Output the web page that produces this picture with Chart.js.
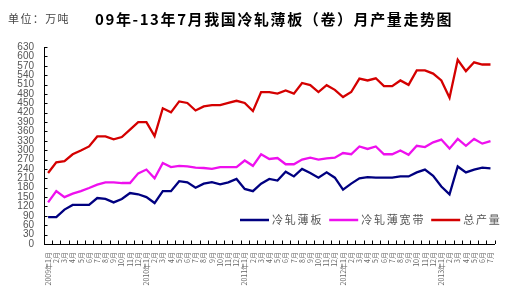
<!DOCTYPE html>
<html>
<head>
<meta charset="utf-8">
<script src="https://cdn.jsdelivr.net/npm/chart.js@4"></script>
<style>
  html,body{margin:0;padding:0;background:#fff;}
  #wrap{position:relative;width:507px;height:297px;overflow:hidden;}
  #unit{position:absolute;left:8px;top:12px;font:11px "Noto Sans CJK SC",sans-serif;letter-spacing:1.4px;color:#444;line-height:13px;white-space:nowrap;}
  #title{position:absolute;left:95px;top:11px;font:bold 15px "Noto Sans CJK SC",sans-serif;letter-spacing:1.6px;color:#000;line-height:16px;white-space:nowrap;}
  canvas{position:absolute;left:0;top:0;}
</style>
</head>
<body>
<div id="wrap">
  <canvas id="c" width="507" height="297"></canvas>
  <div id="unit">单位：万吨</div>
  <div id="title">09年-13年7月我国冷轧薄板（卷）月产量走势图</div>
</div>
<script>
// ---- data (万吨), 2009-01 .. 2013-07 ----
const years = [2009, 2010, 2011, 2012, 2013];
const lastMonth = 7;
const seriesNames = ['冷轧薄板', '冷轧薄宽带', '总产量'];
const coldSheet = [86,86,110,125,125,125,147,144,133,144,163,159,150,131,169,169,201,197,180,193,198,191,197,208,176,169,193,208,203,231,216,240,227,212,229,212,174,193,210,214,212,212,212,216,216,229,238,218,184,159,248,229,238,244,242];
const coldWide = [133,169,150,161,169,179,190,197,197,195,195,226,238,210,259,246,250,248,244,243,240,246,246,246,267,250,287,272,275,255,255,270,276,270,274,276,291,287,312,304,312,287,287,299,285,314,310,325,334,305,336,314,336,321,329];
const total = [227,261,265,287,299,312,344,344,335,342,366,390,390,345,434,421,456,451,427,440,444,444,451,458,451,425,486,486,481,491,481,515,508,486,508,493,470,486,529,523,530,505,505,523,509,555,555,545,523,468,589,553,581,574,574];
const yTicks = {min: 0, max: 630, step: 30};

const labels = [];
years.forEach(y => {
  for (let m = 1; m <= 12; m++) {
    if (y === years[years.length - 1] && m > lastMonth) break;
    labels.push(m === 1 ? y + '年' + m + '月' : m + '月');
  }
});

const colors = ['#000080', '#ee10ee', '#d40000'];

const innerTicks = {
  id: 'innerTicks',
  afterDraw(chart) {
    const ctx = chart.ctx, ca = chart.chartArea;
    const xs = chart.scales.x, ys = chart.scales.y;
    ctx.save();
    ctx.strokeStyle = '#000';
    ctx.lineWidth = 1;
    ctx.beginPath();
    ys.ticks.forEach((t, i) => {
      const y = Math.round(ys.getPixelForTick(i)) + 0.5;
      ctx.moveTo(ca.left, y); ctx.lineTo(ca.left + 3.5, y);
    });
    const n = xs.ticks.length;
    const w = (ca.right - ca.left) / n;
    for (let i = 0; i <= n; i++) {
      const x = Math.round(xs.getPixelForTick(0) - w / 2 + i * w) + 0.5;
      ctx.moveTo(x, ca.bottom); ctx.lineTo(x, ca.bottom - 3.5);
    }
    ctx.stroke();

    // legend inside the plot
    const ly = 220;
    let lx = 240;
    ctx.font = '11px "Noto Sans CJK SC", sans-serif';
    ctx.letterSpacing = '1.8px';
    ctx.textBaseline = 'middle';
    ctx.fillStyle = '#555';
    chart.data.datasets.forEach((ds, i) => {
      ctx.strokeStyle = ds.borderColor;
      ctx.lineWidth = 2.5;
      ctx.beginPath();
      ctx.moveTo(lx, ly); ctx.lineTo(lx + 29, ly);
      ctx.stroke();
      lx += 32;
      ctx.fillText(ds.label, lx, ly);
      lx += ctx.measureText(ds.label).width + 6;
    });
    ctx.restore();
  }
};

new Chart(document.getElementById('c'), {
  type: 'line',
  data: {
    labels: labels,
    datasets: [
      {label: seriesNames[0], data: coldSheet, borderColor: colors[0]},
      {label: seriesNames[1], data: coldWide, borderColor: colors[1]},
      {label: seriesNames[2], data: total, borderColor: colors[2]}
    ].map(d => Object.assign(d, {borderWidth: 2.3, pointRadius: 0, tension: 0, fill: false}))
  },
  options: {
    responsive: false,
    animation: false,
    layout: {padding: {top: 47, right: 12, left: 0, bottom: 0}},
    plugins: {legend: {display: false}, tooltip: {enabled: false}, title: {display: false}},
    scales: {
      x: {
        type: 'category',
        offset: true,
        grid: {display: false, drawTicks: false, offset: true},
        border: {display: true, color: '#000', width: 1},
        ticks: {autoSkip: false, minRotation: 90, maxRotation: 90, padding: 8,
                font: {size: 7, family: '"Noto Sans CJK SC", sans-serif'}, color: '#666'},
        afterFit(s) { s.height = 53; }
      },
      y: {
        min: yTicks.min, max: yTicks.max,
        grid: {display: false, drawTicks: false},
        border: {display: true, color: '#000', width: 1},
        ticks: {stepSize: yTicks.step, autoSkip: false, padding: 10,
                font: {size: 10, family: '"Liberation Sans", Arial, sans-serif'}, color: '#555'},
        afterFit(s) { s.width = 44; }
      }
    }
  },
  plugins: [innerTicks]
});
</script>
</body>
</html>
